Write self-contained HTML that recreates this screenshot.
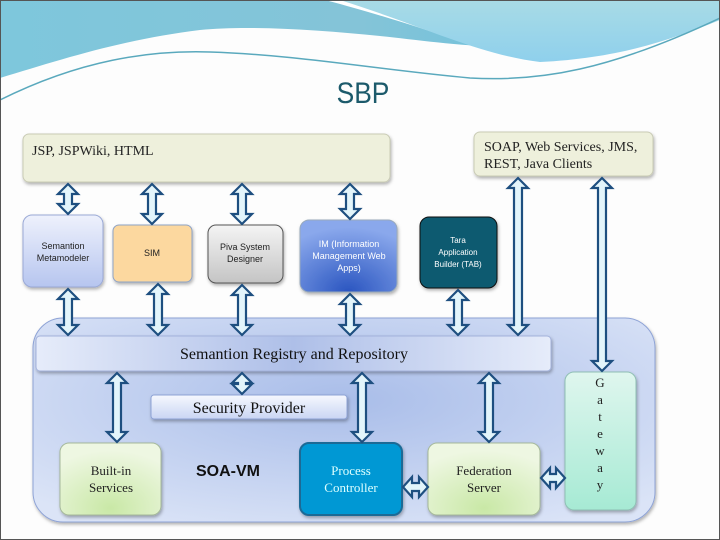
<!DOCTYPE html>
<html><head><meta charset="utf-8"><style>
html,body{margin:0;padding:0;background:#fff}
svg{display:block}
text{font-family:"Liberation Serif",serif}
text.s,.s text{font-family:"Liberation Sans",sans-serif}
</style></head><body>
<svg width="720" height="540" viewBox="0 0 720 540" xmlns="http://www.w3.org/2000/svg">
<defs>
<linearGradient id="wv" x1="0" y1="0" x2="1" y2="0"><stop offset="0" stop-color="#7ec7dc"/><stop offset="0.5" stop-color="#84c4d8"/><stop offset="1" stop-color="#5bbfe0"/></linearGradient>
<linearGradient id="wv2" x1="0" y1="0" x2="0" y2="1"><stop offset="0" stop-color="#a8dbe6"/><stop offset="1" stop-color="#8fd0ec"/></linearGradient>
<radialGradient id="cont" cx="0.5" cy="0.4" r="0.7"><stop offset="0" stop-color="#a9bde9"/><stop offset="1" stop-color="#dbe4f7"/></radialGradient>
<linearGradient id="reg" x1="0" y1="0" x2="1" y2="0"><stop offset="0" stop-color="#e6ecfa"/><stop offset="0.5" stop-color="#aebfe8"/><stop offset="1" stop-color="#e6ecfa"/></linearGradient>
<linearGradient id="sem" x1="0" y1="0" x2="0" y2="1"><stop offset="0" stop-color="#eef1fc"/><stop offset="1" stop-color="#b6c5ef"/></linearGradient>
<linearGradient id="piva" x1="0" y1="0" x2="0" y2="1"><stop offset="0" stop-color="#f4f4f4"/><stop offset="1" stop-color="#c4c4c4"/></linearGradient>
<radialGradient id="im" cx="0.5" cy="1" r="0.9"><stop offset="0" stop-color="#2a55c0"/><stop offset="1" stop-color="#8aa8ec"/></radialGradient>
<radialGradient id="grn" cx="0.5" cy="0.9" r="0.8"><stop offset="0" stop-color="#c9e8a6"/><stop offset="1" stop-color="#eef7e2"/></radialGradient>
<linearGradient id="gw" x1="0" y1="0" x2="0" y2="1"><stop offset="0" stop-color="#dff6ee"/><stop offset="1" stop-color="#a6ead4"/></linearGradient>
<linearGradient id="sec" x1="0" y1="0" x2="0" y2="1"><stop offset="0" stop-color="#f6f8fe"/><stop offset="1" stop-color="#c9d5f3"/></linearGradient>
<filter id="sh" x="-10%" y="-10%" width="130%" height="140%"><feDropShadow dx="1" dy="2" stdDeviation="1.5" flood-color="#000" flood-opacity="0.3"/></filter>
</defs>
<rect x="0.5" y="0.5" width="719" height="539" fill="#fdfdfd" stroke="#555" stroke-width="1"/>
<path d="M0,0 H720 V15 C660,30 600,48 540,48 C470,48 420,40 380,36 C320,30 250,25 200,30 C120,40 60,60 0,78 Z" fill="url(#wv)"/>
<path d="M325,0 H720 V8 C680,30 620,55 530,62 C480,50 420,25 325,0 Z" fill="#fff"/>
<path d="M340,0 H720 V20 C670,40 620,58 540,62 C480,55 420,25 340,0 Z" fill="url(#wv2)"/>
<path d="M0,100 C80,60 150,50 210,52 C300,55 380,70 470,78 C540,82 610,70 720,18" fill="none" stroke="#5aa9bd" stroke-width="1.5"/>
<rect x="0.5" y="0.5" width="719" height="539" fill="none" stroke="#555"/>
<text x="363" y="103" text-anchor="middle" class="s" font-size="30" fill="#1c5a6b" transform="translate(363 0) scale(0.88 1) translate(-363 0)">SBP</text>

<rect x="23" y="134" width="367" height="48" rx="6" fill="#eef0dc" stroke="#c9cbb5" filter="url(#sh)"/>
<text x="32" y="155" font-size="14" fill="#222">JSP, JSPWiki, HTML</text>
<rect x="474" y="132" width="179" height="44" rx="6" fill="#eef0dc" stroke="#c9cbb5" filter="url(#sh)"/>
<text x="484" y="151" font-size="14" fill="#222">SOAP, Web Services, JMS,</text>
<text x="484" y="168" font-size="14" fill="#222">REST, Java Clients</text>

<rect x="33" y="318" width="622" height="204" rx="30" fill="url(#cont)" stroke="#8ea3d6" filter="url(#sh)"/>

<g class="s" font-size="9" text-anchor="middle">
<rect x="23" y="215" width="80" height="72" rx="9" fill="url(#sem)" stroke="#9aa9d6" filter="url(#sh)"/>
<text x="63" y="249" fill="#222">Semantion</text><text x="63" y="261" fill="#222">Metamodeler</text>
<rect x="113" y="225" width="79" height="57" rx="6" fill="#fcd89f" stroke="#8ea3c6" filter="url(#sh)"/>
<text x="152" y="256" fill="#222">SIM</text>
<rect x="208" y="225" width="75" height="58" rx="8" fill="url(#piva)" stroke="#555" filter="url(#sh)"/>
<text x="245" y="250" fill="#222">Piva System</text><text x="245" y="262" fill="#222">Designer</text>
<rect x="300" y="220" width="97" height="72" rx="9" fill="url(#im)" stroke="#9ab" filter="url(#sh)"/>
<text x="349" y="247" fill="#fff">IM (Information</text><text x="349" y="259" fill="#fff">Management Web</text><text x="349" y="271" fill="#fff">Apps)</text>
<rect x="420" y="217" width="77" height="71" rx="9" fill="#0d5a70" stroke="#111" filter="url(#sh)"/>
<text x="458" y="243" fill="#fff" font-size="8">Tara</text><text x="458" y="255" fill="#fff" font-size="8">Application</text><text x="458" y="267" fill="#fff" font-size="8">Builder (TAB)</text>
</g>

<rect x="36" y="336" width="515" height="35" rx="4" fill="url(#reg)" stroke="#a3b2dc" filter="url(#sh)"/>
<text x="294" y="359" text-anchor="middle" font-size="16" fill="#111">Semantion Registry and Repository</text>
<rect x="565" y="372" width="71" height="138" rx="9" fill="url(#gw)" stroke="#8fbfb4" filter="url(#sh)"/>
<g font-size="13" text-anchor="middle" fill="#222">
<text x="600" y="387">G</text><text x="600" y="404">a</text><text x="600" y="421">t</text><text x="600" y="438">e</text><text x="600" y="455">w</text><text x="600" y="472">a</text><text x="600" y="489">y</text>
</g>
<rect x="151" y="395" width="196" height="24" rx="3" fill="url(#sec)" stroke="#8ea3d6" filter="url(#sh)"/>
<text x="249" y="413" text-anchor="middle" font-size="16" fill="#111">Security Provider</text>
<rect x="60" y="443" width="101" height="72" rx="9" fill="url(#grn)" stroke="#a5b89a" filter="url(#sh)"/>
<text x="111" y="475" text-anchor="middle" font-size="13" fill="#222">Built-in</text><text x="111" y="492" text-anchor="middle" font-size="13" fill="#222">Services</text>
<text x="228" y="476" text-anchor="middle" class="s" font-size="16" font-weight="bold" fill="#111">SOA-VM</text>
<rect x="300" y="443" width="102" height="72" rx="9" fill="#0398d4" stroke="#1a6a96" stroke-width="2" filter="url(#sh)"/>
<text x="351" y="475" text-anchor="middle" font-size="13" fill="#dff">Process</text><text x="351" y="492" text-anchor="middle" font-size="13" fill="#dff">Controller</text>
<rect x="428" y="443" width="112" height="72" rx="9" fill="url(#grn)" stroke="#a5b89a" filter="url(#sh)"/>
<text x="484" y="475" text-anchor="middle" font-size="13" fill="#222">Federation</text><text x="484" y="492" text-anchor="middle" font-size="13" fill="#222">Server</text>

<g id="arrows" fill="#e3f5fb" stroke="#1e4f80" stroke-width="2.2" stroke-linejoin="miter"></g>
</svg>
<script>
(function(){
var g=document.getElementById('arrows');
function v(x,y1,y2,two){var s=4,h=10,hl=10;var p=[];
 p.push([x,y1]);p.push([x+h,y1+hl]);p.push([x+s,y1+hl]);
 if(two){p.push([x+s,y2-hl]);p.push([x+h,y2-hl]);p.push([x,y2]);p.push([x-h,y2-hl]);p.push([x-s,y2-hl]);}
 else{p.push([x+s,y2]);p.push([x-s,y2]);}
 p.push([x-s,y1+hl]);p.push([x-h,y1+hl]);add(p);}
function hz(y,x1,x2){var s=4,h=10,hl=9;add([[x1,y],[x1+hl,y-h],[x1+hl,y-s],[x2-hl,y-s],[x2-hl,y-h],[x2,y],[x2-hl,y+h],[x2-hl,y+s],[x1+hl,y+s],[x1+hl,y+h]]);}
function add(p){var e=document.createElementNS('http://www.w3.org/2000/svg','polygon');e.setAttribute('points',p.map(function(a){return a.join(',')}).join(' '));g.appendChild(e);}
v(68,184,214,1);v(152,184,224,1);v(242,184,224,1);v(350,184,219,1);
v(68,289,335,1);v(158,284,335,1);v(242,285,335,1);v(350,294,335,1);v(458,290,335,1);
v(518,178,335,1);v(602,178,371,1);
v(117,373,442,1);v(242,373,394,1);v(362,373,442,1);v(489,373,442,1);
hz(487,403,428);hz(478,541,565);
})();
</script>
</body></html>
